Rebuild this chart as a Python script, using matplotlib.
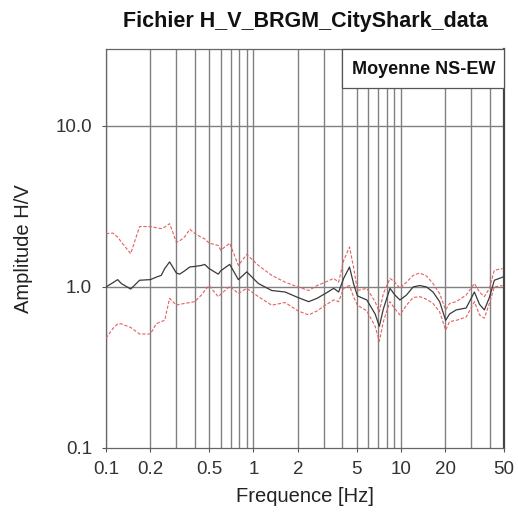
import numpy as np
import matplotlib
matplotlib.use("Agg")
import matplotlib.pyplot as plt
from matplotlib.ticker import FixedLocator, NullFormatter, NullLocator
from matplotlib.patches import Rectangle

plt.rcParams['font.family'] = ['Liberation Sans', 'DejaVu Sans']

# Frequencies (Hz)
freq = [0.1, 0.111, 0.120, 0.127, 0.147, 0.169, 0.2, 0.219, 0.237, 0.250, 0.270, 0.3,
        0.316, 0.342, 0.370, 0.400, 0.421, 0.444, 0.467, 0.5, 0.577, 0.6, 0.69, 0.79,
        0.9, 1.08, 1.33, 1.64, 2.0, 2.37, 2.70, 3.07, 3.50, 3.78, 4.09, 4.48, 4.77,
        5.07, 5.87, 6.68, 7.14, 7.60, 8.43, 9.11, 9.85, 10.9, 12.1, 13.4, 14.9, 16.5,
        18.3, 20.1, 21.4, 23.7, 27.7, 31.5, 34.1, 36.8, 39.8, 43.0, 48.9]

# Mean H/V (Moyenne NS-EW)
mean_hv = [1.00, 1.06, 1.11, 1.05, 0.97, 1.10, 1.11, 1.15, 1.18, 1.30, 1.43, 1.22,
           1.20, 1.26, 1.33, 1.34, 1.35, 1.36, 1.38, 1.30, 1.20, 1.26, 1.38, 1.11,
           1.24, 1.05, 0.95, 0.93, 0.86, 0.81, 0.85, 0.91, 0.98, 0.93, 1.13, 1.33, 1.05,
           0.88, 0.83, 0.68, 0.57, 0.73, 0.98, 0.89, 0.83, 0.89, 1.00, 1.02, 1.00, 0.93,
           0.81, 0.62, 0.68, 0.72, 0.74, 0.93, 0.78, 0.72, 0.86, 1.10, 1.15]

# Mean + std
upper_hv = [2.14, 2.16, 2.04, 1.90, 1.61, 2.37, 2.37, 2.33, 2.30, 2.35, 2.47, 1.90,
            1.93, 2.05, 2.28, 2.15, 2.09, 2.03, 1.99, 1.87, 1.81, 1.69, 1.87, 1.36,
            1.59, 1.36, 1.18, 1.07, 1.00, 0.95, 1.02, 1.07, 1.13, 1.07, 1.46, 1.77, 1.33,
            0.95, 0.98, 0.81, 0.70, 0.91, 1.13, 1.07, 0.98, 1.07, 1.18, 1.22, 1.17, 1.05,
            0.91, 0.72, 0.79, 0.81, 0.89, 1.05, 0.93, 0.87, 0.98, 1.27, 1.30]

# Mean - std
lower_hv = [0.48, 0.55, 0.59, 0.59, 0.56, 0.51, 0.51, 0.59, 0.61, 0.62, 0.85, 0.77,
            0.78, 0.79, 0.80, 0.81, 0.85, 0.89, 0.95, 1.02, 0.87, 0.90, 1.01, 0.91,
            0.98, 0.87, 0.77, 0.80, 0.71, 0.67, 0.71, 0.77, 0.83, 0.81, 0.98, 1.02, 0.87,
            0.77, 0.71, 0.57, 0.46, 0.61, 0.81, 0.73, 0.67, 0.77, 0.86, 0.87, 0.84, 0.79,
            0.70, 0.54, 0.61, 0.62, 0.65, 0.81, 0.67, 0.64, 0.79, 1.00, 1.02]

x_tick_vals = [0.1, 0.2, 0.5, 1, 2, 5, 10, 20, 50]
x_tick_labels = ["0.1", "0.2", "0.5", "1", "2", "5", "10", "20", "50"]
y_tick_vals = [0.1, 1.0, 10.0]
y_tick_labels = ["0.1", "1.0", "10.0"]
top_tick_vals = [0.1, 0.2, 0.3, 0.4, 0.5, 0.6, 0.7, 0.8, 0.9, 1, 2, 3, 5, 10, 20, 50]

fig = plt.figure(figsize=(5.18, 5.18), dpi=100)
ax = fig.add_axes([106/518, 1-448/518, (504-106)/518, (448-49)/518])
ax.set_xscale('log')
ax.set_yscale('log')
ax.set_xlim(0.1, 50)
ax.set_ylim(0.1, 30)

# Grid: all decades' sub-lines vertically, majors horizontally
grid_x = [m * 10.0**e for e in (-1, 0, 1) for m in range(1, 10) if m * 10.0**e <= 50]
for gx in grid_x:
    ax.axvline(gx, color='#808080', lw=1.0, zorder=1)
for gy in [1.0, 10.0]:
    ax.axhline(gy, color='#808080', lw=1.0, zorder=1)

ax.plot(freq, upper_hv, color='#e46060', lw=0.8, ls=(0, (3, 1.6)), zorder=3)
ax.plot(freq, lower_hv, color='#e46060', lw=0.8, ls=(0, (3, 1.6)), zorder=3)
ax.plot(freq, mean_hv, color='#3a3a3a', lw=0.9, zorder=4)

ax.xaxis.set_major_locator(FixedLocator(x_tick_vals))
ax.set_xticklabels(x_tick_labels)
ax.xaxis.set_minor_locator(NullLocator())
ax.yaxis.set_major_locator(FixedLocator(y_tick_vals))
ax.set_yticklabels(y_tick_labels)
ax.yaxis.set_minor_locator(NullLocator())
ax.tick_params(axis='both', which='major', labelsize=13.5, length=3, width=0.8,
               color='#555555', labelcolor='#333333')
ax.tick_params(axis='x', pad=6)
ax.tick_params(axis='y', pad=7)

for s in ['left', 'bottom', 'top']:
    ax.spines[s].set_color('#666666')
    ax.spines[s].set_linewidth(0.9)
ax.spines['right'].set_color('#444444')
ax.spines['right'].set_linewidth(1.6)

sec = ax.secondary_xaxis('top')
sec.xaxis.set_major_locator(FixedLocator(top_tick_vals))
sec.xaxis.set_minor_locator(NullLocator())
sec.xaxis.set_major_formatter(NullFormatter())
sec.tick_params(direction='in', length=4, width=0.7, color='#777777')
sec.spines['top'].set_visible(False)

ax.set_xlabel('Frequence [Hz]', fontsize=14.5, labelpad=7, color='#222222')
ax.set_ylabel('Amplitude H/V', fontsize=14.5, labelpad=16, color='#222222')
fig.text(305/518, 1-22/518, 'Fichier H_V_BRGM_CityShark_data', ha='center', va='center',
         fontsize=15.5, fontweight='bold', color='#111111')

# Legend-like box in the upper right corner
bx0 = (342-106)/398
by0 = (448-88)/399
ax.add_patch(Rectangle((bx0, by0), 1-bx0, 1-by0, transform=ax.transAxes,
                       facecolor='white', edgecolor='#555555', lw=0.9, zorder=6,
                       clip_on=False))
ax.text((bx0+1)/2 + 0.003, by0 + (1-by0)/2 - 0.003, 'Moyenne NS-EW', transform=ax.transAxes,
        ha='center', va='center', fontsize=13, fontweight='bold', color='#111111', zorder=7)

fig.savefig('out.png', dpi=100, facecolor='white')
